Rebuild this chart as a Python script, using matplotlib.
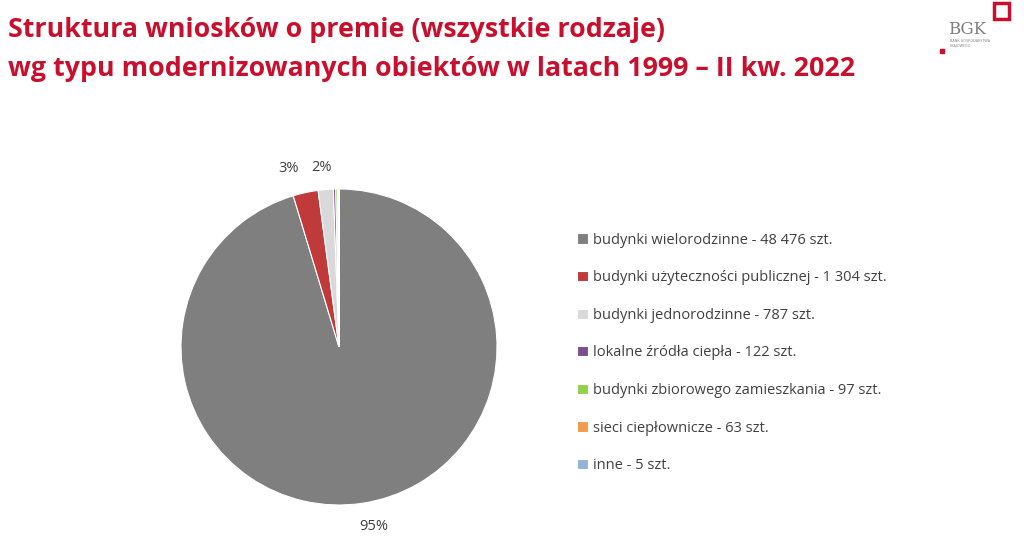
import matplotlib
matplotlib.use("Agg")
import matplotlib.pyplot as plt
from matplotlib.patches import Rectangle

labels = ["budynki wielorodzinne - 48 476 szt.",
          "budynki użyteczności publicznej - 1 304 szt.",
          "budynki jednorodzinne - 787 szt.",
          "lokalne źródła ciepła - 122 szt.",
          "budynki zbiorowego zamieszkania - 97 szt.",
          "sieci ciepłownicze - 63 szt.",
          "inne - 5 szt."]
values = [48476, 1304, 787, 122, 97, 63, 5]
pct_labels = ["95%", "3%", "2%", "", "", "", ""]
colors = ["#7f7f7f", "#c0393b", "#d9d9d9", "#7a4f8c", "#92d050", "#f29b4b", "#95b3d7"]

plt.rcParams['font.family'] = ['Open Sans', 'DejaVu Sans']
fig = plt.figure(figsize=(10.24, 5.48), dpi=100)
fig.patch.set_facecolor("white")

fig.text(0.008, 0.945, "Struktura wniosków o premie (wszystkie rodzaje)", fontsize=19.3, fontweight='bold', color="#c8102e", va='center')
fig.text(0.008, 0.875, "wg typu modernizowanych obiektów w latach 1999 – II kw. 2022", fontsize=19.3, fontweight='bold', color="#c8102e", va='center')

# logo
fig.text(948/1024, 1-30/548, "BGK", fontsize=12, color="#7f7f7f", family="DejaVu Serif", va='center')
fig.text(950/1024, 1-43/548, "BANK GOSPODARSTWA\nKRAJOWEGO", fontsize=2.6, color="#7f7f7f", va='center', linespacing=1.0)
fig.patches.append(Rectangle((994/1024, 1-19/548), 15/1024, 16/548, transform=fig.transFigure, fill=False, edgecolor="#c8102e", linewidth=2.5))
fig.patches.append(Rectangle((940/1024, 1-53/548), 4/1024, 4/548, transform=fig.transFigure, color="#c8102e"))

ax = fig.add_axes([181/1024, 43/548, 316/1024, 316/548])
wedges, texts = ax.pie(values, colors=colors, labels=pct_labels, startangle=90, counterclock=False,
                       labeldistance=1.1, wedgeprops=dict(edgecolor="white", linewidth=0.8),
                       textprops=dict(fontsize=10.5, color="#404040"))
ax.set_xlim(-1, 1)
ax.set_ylim(-1, 1)
ax.set_aspect('equal')
texts[1].set_position((-0.32, 1.08)); texts[1].set_ha('center'); texts[1].set_va('bottom')
texts[2].set_position((-0.11, 1.09)); texts[2].set_ha('center'); texts[2].set_va('bottom')
texts[0].set_position((0.22, -1.09)); texts[0].set_ha('center'); texts[0].set_va('top')

leg = fig.legend(wedges, labels, loc='center left', bbox_to_anchor=(0.551, 0.356), frameon=False,
                 fontsize=10.5, labelcolor="#404040", handlelength=0.7, handleheight=0.7,
                 labelspacing=1.55, handletextpad=0.4)
fig.savefig("out.png", dpi=100)
